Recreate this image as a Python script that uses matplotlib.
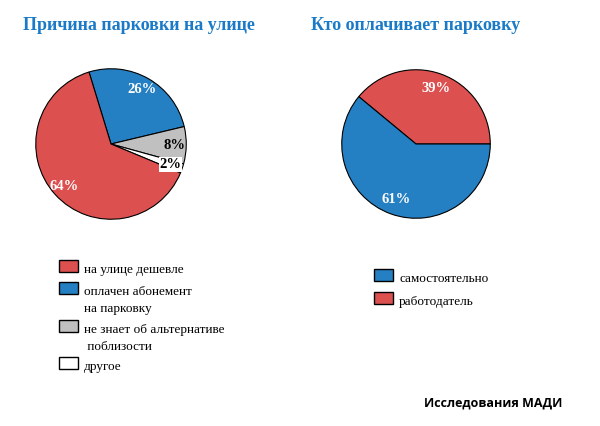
import matplotlib
matplotlib.use("Agg")
import matplotlib.pyplot as plt
from matplotlib.patches import Rectangle

# Data
left_title = "Причина парковки на улице"
left_labels = ["оплачен абонемент\nна парковку", "не знает об альтернативе\n поблизости", "другое", "на улице дешевле"]
left_values = [26, 8, 2, 64]
left_colors = ["#2580c3", "#c0c0c0", "#ffffff", "#dd5050"]
left_text_colors = ["white", "black", "black", "white"]
left_legend_order = [3, 0, 1, 2]

right_title = "Кто оплачивает парковку"
right_labels = ["работодатель", "самостоятельно"]
right_values = [39, 61]
right_colors = ["#dd5050", "#2580c3"]
right_text_colors = ["white", "white"]
right_legend_order = [1, 0]

source = "Исследования МАДИ"

W, H = 600, 426
fig = plt.figure(figsize=(W / 100, H / 100), dpi=100)
fig.patch.set_facecolor("white")

def px(x, y):
    return x / W, 1 - y / H

serif = ["Liberation Serif", "DejaVu Serif"]
title_color = "#1a7ac8"

def draw_pie(rect, values, colors, tcolors, startangle, counterclock, pctd):
    ax = fig.add_axes(rect)
    wedges, texts, autotexts = ax.pie(values, colors=colors, startangle=startangle,
                                      counterclock=counterclock,
                                      autopct=lambda p: f"{p:.0f}%", pctdistance=pctd,
                                      wedgeprops=dict(edgecolor="black", linewidth=0.8),
                                      textprops=dict(family=serif, fontweight="bold", fontsize=10.5))
    for t, c in zip(autotexts, tcolors):
        t.set_color(c)
    ax.set_xlim(-1.01, 1.01)
    ax.set_ylim(-1.01, 1.01)
    ax.set_aspect("equal")
    ax.axis("off")
    return ax, wedges, autotexts

# left pie: bbox x 35-187, y 68-220
lx0, ly0 = px(35, 220)
axl, wl, atl = draw_pie([lx0, ly0, 152 / W, 152 / H], left_values, left_colors,
                        left_text_colors, 107, False, 0.84)
atl[2].set_bbox(dict(facecolor="white", edgecolor="none", pad=0.5))

# right pie: bbox x 341-491, y 69-219
rx0, ry0 = px(341, 219)
axr, wr, atr = draw_pie([rx0, ry0, 150 / W, 150 / H], right_values, right_colors,
                        right_text_colors, 0, True, 0.8)

fig.text(*px(139, 25), left_title, ha="center", va="center", family=serif,
         fontweight="bold", fontsize=13, color=title_color)
fig.text(*px(416, 25), right_title, ha="center", va="center", family=serif,
         fontweight="bold", fontsize=13, color=title_color)

def legend(order, labels, colors, x0, tops, line_h=17):
    for i, top in zip(order, tops):
        fig.add_artist(Rectangle(px(x0, top + 12), 19 / W, 12 / H, transform=fig.transFigure,
                                 facecolor=colors[i], edgecolor="black", linewidth=1.0))
        for k, line in enumerate(labels[i].split("\n")):
            fig.text(*px(x0 + 25, top + 13 + k * line_h), line, ha="left", va="baseline",
                     family=serif, fontsize=9.5, color="black")

legend(left_legend_order, left_labels, left_colors, 59, [260, 282, 320, 357])
legend(right_legend_order, right_labels, right_colors, 374, [269, 292])

fig.text(*px(562, 403), source, ha="right", va="center",
         family=["Open Sans", "DejaVu Sans"], fontweight="bold", fontsize=9)

fig.savefig("out.png", dpi=100, facecolor="white")
